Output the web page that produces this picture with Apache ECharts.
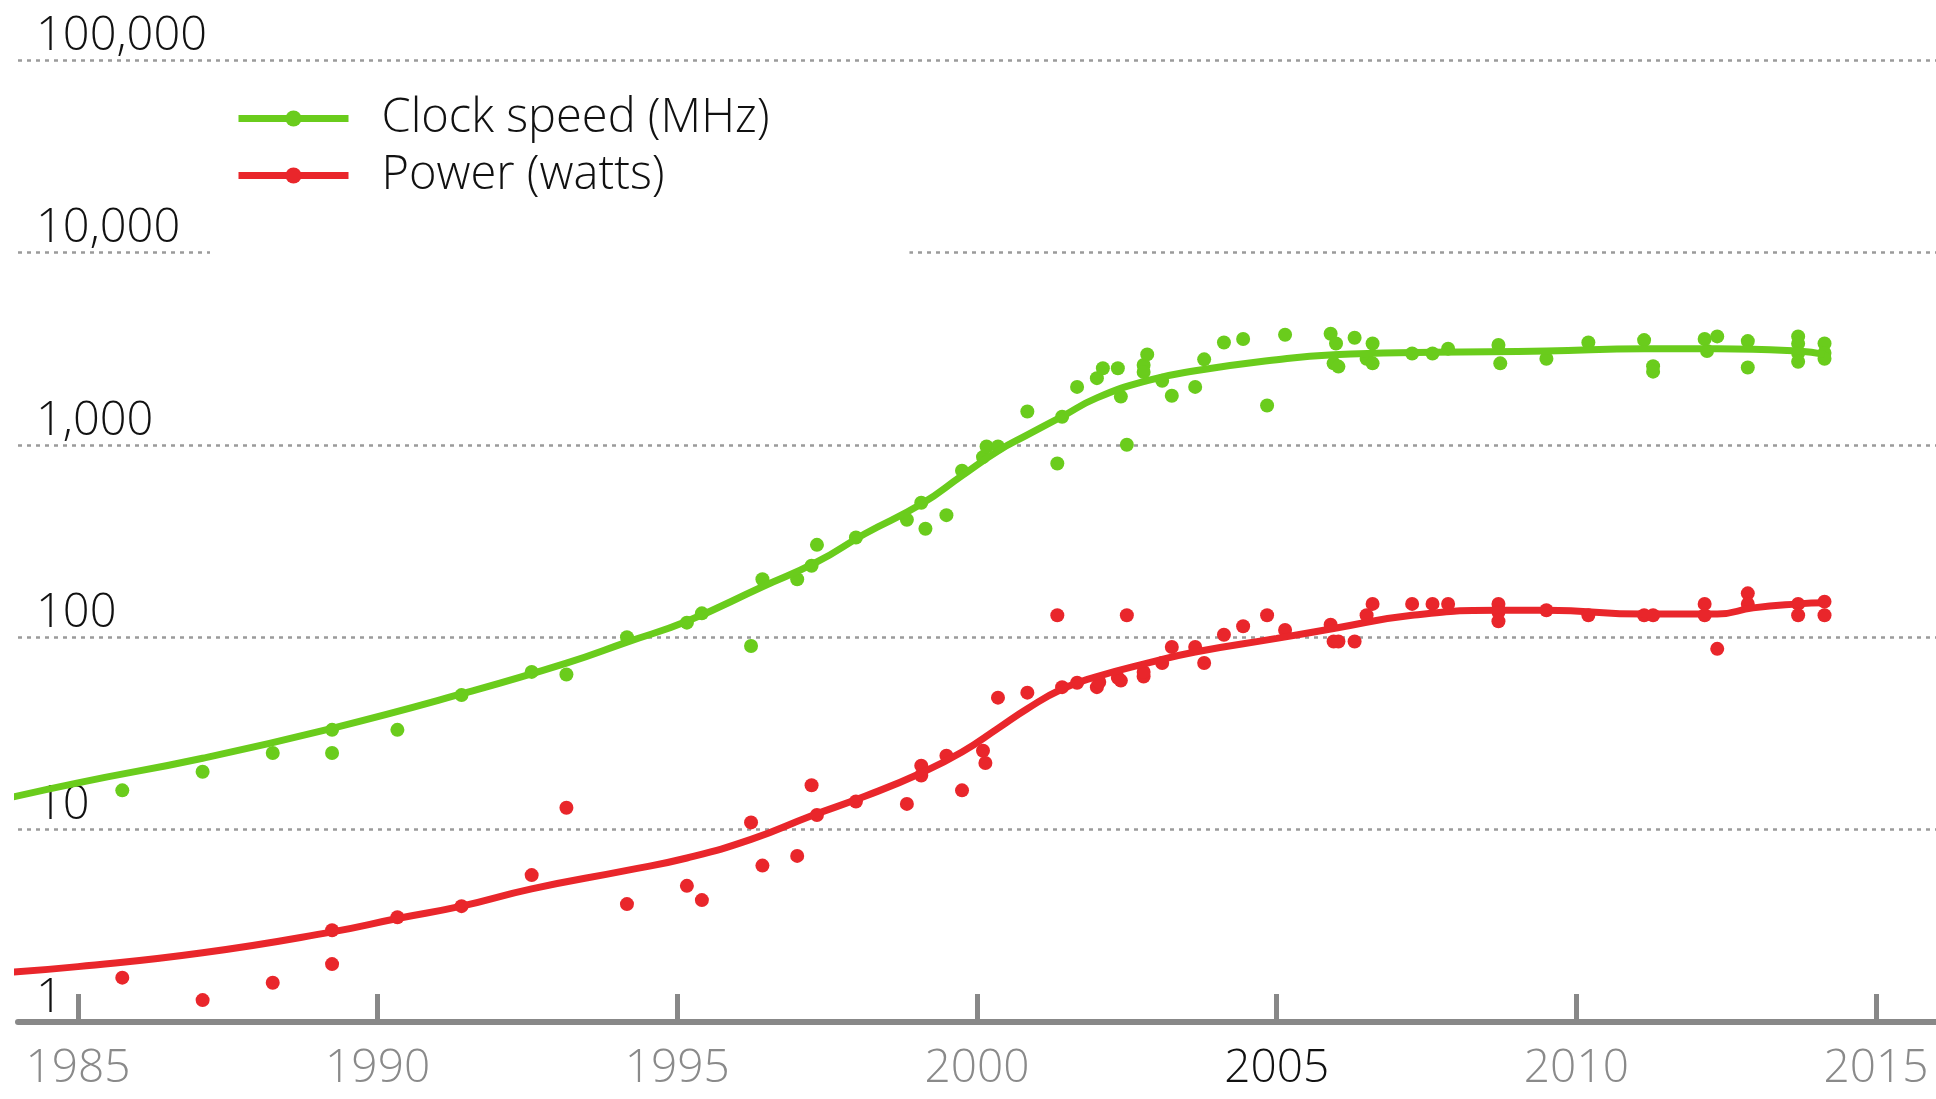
<!DOCTYPE html>
<html>
<head>
<meta charset="utf-8">
<title>Clock speed and power</title>
<script src="https://cdn.jsdelivr.net/npm/echarts@6/dist/echarts.min.js"></script>
<style>
  html, body { margin: 0; padding: 0; background: #fff; }
  #chart { width: 1936px; height: 1099px; }
</style>
</head>
<body>
<div id="chart"></div>
<script>
// measured points - clock speed (MHz)
var clockYears = [1985.74, 1987.08, 1988.25, 1989.24, 1989.24, 1990.33, 1991.40, 1992.57, 1993.15, 1994.16,
    1995.16, 1995.41, 1996.23, 1996.42, 1997.00, 1997.24, 1997.33, 1997.98, 1998.83, 1999.07,
    1999.14, 1999.49, 1999.75, 2000.10, 2000.16, 2000.35, 2000.84, 2001.34, 2001.42, 2001.67,
    2002.00, 2002.10, 2002.35, 2002.40, 2002.50, 2002.78, 2002.84, 2002.78, 2003.09, 2003.25,
    2003.64, 2003.79, 2004.12, 2004.44, 2004.84, 2005.14, 2005.90, 2005.99, 2005.95, 2006.03,
    2006.30, 2006.60, 2006.50, 2006.60, 2007.26, 2007.60, 2007.86, 2008.70, 2008.73, 2009.50,
    2010.20, 2011.13, 2011.28, 2011.28, 2012.14, 2012.18, 2012.35, 2012.86, 2012.86, 2013.70,
    2013.70, 2013.70, 2013.70, 2014.14, 2014.14, 2014.14];
var clockMHz = [16, 20, 25, 33, 25, 33, 50, 66, 64, 100,
    119, 133, 90, 200, 200, 235, 302, 330, 408, 500,
    366, 431, 733, 863, 980, 980, 1490, 800, 1400, 2000,
    2220, 2500, 2500, 1780, 1000, 2600, 2950, 2390, 2150, 1800,
    2000, 2780, 3400, 3550, 1600, 3730, 3780, 3360, 2650, 2550,
    3600, 3360, 2800, 2650, 2980, 2980, 3160, 3300, 2650, 2800,
    3400, 3500, 2560, 2400, 3550, 3070, 3660, 3460, 2520, 3660,
    3350, 3000, 2700, 3360, 3000, 2800];

// measured points - power (watts)
var powerYears = [1985.74, 1987.08, 1988.25, 1989.24, 1989.24, 1990.33, 1991.40, 1992.57, 1993.15, 1994.16,
    1995.16, 1995.41, 1996.23, 1996.42, 1997.00, 1997.24, 1997.33, 1997.98, 1998.83, 1999.07,
    1999.07, 1999.49, 1999.75, 2000.10, 2000.14, 2000.35, 2000.84, 2001.34, 2001.42, 2001.67,
    2002.00, 2002.04, 2002.35, 2002.40, 2002.50, 2002.78, 2002.78, 2003.09, 2003.25, 2003.64,
    2003.79, 2004.12, 2004.44, 2004.84, 2005.14, 2005.90, 2005.95, 2006.03, 2006.30, 2006.60,
    2006.50, 2007.26, 2007.60, 2007.86, 2008.70, 2008.70, 2008.70, 2009.50, 2010.20, 2011.13,
    2011.28, 2012.14, 2012.14, 2012.35, 2012.86, 2012.86, 2013.70, 2013.70, 2014.14, 2014.14];
var powerWatts = [1.7, 1.3, 1.6, 3.0, 2.0, 3.5, 4.0, 5.8, 13, 4.1,
    5.1, 4.3, 10.9, 6.5, 7.3, 17, 11.9, 14, 13.6, 21.5,
    19.1, 24.2, 16, 25.7, 22.2, 48.5, 51.5, 130, 55, 58,
    55, 58.5, 61.5, 59.5, 130, 62.5, 66, 73.5, 89, 89,
    73.5, 103, 114, 130, 109, 116, 95, 95, 95, 149,
    130, 149, 149, 149, 149, 135, 121, 138, 130, 130,
    130, 149, 130, 87, 169, 149, 149, 130, 153, 130];

// smoothed trend lines
var clockTrendYears = [1983.72, 1985.0, 1987.08, 1989.24, 1991.4, 1993.15, 1994.16, 1995.16, 1996.42, 1997.33,
    1998.13, 1999.07, 1999.75, 2000.35, 2000.84, 2001.42, 2002.0, 2002.84, 2003.64, 2005.0,
    2005.95, 2007.6, 2009.5, 2011.13, 2012.35, 2013.7, 2014.14];
var clockTrend = [14.3, 17.5, 23.5, 33.6, 50.7, 73.3, 94.3, 121, 183, 246,
    345, 492, 692, 929, 1125, 1403, 1753, 2155, 2425, 2770,
    2940, 3025, 3070, 3160, 3160, 3070, 2950];

var powerTrendYears = [1983.72, 1985.0, 1987.08, 1989.24, 1990.33, 1991.4, 1992.57, 1994.16, 1995.16, 1996.23,
    1997.24, 1998.13, 1999.07, 1999.75, 2000.35, 2000.84, 2001.42, 2002.0, 2002.84, 2003.64,
    2005.0, 2005.95, 2007.26, 2008.7, 2009.5, 2011.13, 2012.35, 2012.95, 2013.7, 2014.14];
var powerTrend = [1.8, 1.94, 2.29, 2.94, 3.45, 4.0, 4.92, 6.14, 7.12, 8.89,
    11.8, 14.9, 19.7, 25.3, 33.6, 42.5, 53.8, 62.4, 73.3, 83.8,
    98.6, 111, 130, 138, 138, 132, 132, 142, 149, 151];

var yearTicks = [1985, 1990, 1995, 2000, 2005, 2010, 2015];

var GREEN = '#6acc1c';
var RED = '#e9262b';
var FONT = 'Open Sans';

function pairs(xs, ys) {
    return xs.map(function (x, i) { return [x, ys[i]]; });
}

var myChart = echarts.init(document.getElementById('chart'));

myChart.setOption({
    animation: false,
    backgroundColor: '#fff',
    grid: { left: 18, right: 0, top: 60, bottom: 77 },
    legend: {
        data: ['Clock speed (MHz)', 'Power (watts)'],
        orient: 'vertical',
        left: 210,
        top: 80,
        padding: [10, 140, 60, 25],
        backgroundColor: '#fff',
        itemWidth: 110,
        itemHeight: 20,
        itemGap: 0,
        selectedMode: false,
        lineStyle: { width: 7 },
        textStyle: {
            fontFamily: FONT,
            fontWeight: 300,
            fontSize: 47,
            lineHeight: 57,
            color: '#111',
            padding: [0, 0, 0, 28]
        }
    },
    xAxis: {
        type: 'value',
        min: 1984,
        max: 2016,
        splitLine: { show: false },
        axisLine: { lineStyle: { color: '#888', width: 6 } },
        axisTick: {
            inside: true,
            length: 28,
            customValues: yearTicks,
            lineStyle: { color: '#888', width: 5 }
        },
        axisLabel: {
            customValues: yearTicks,
            margin: 24,
            fontFamily: FONT,
            fontWeight: 300,
            fontSize: 46,
            formatter: function (v) { return String(v); },
            color: function (v) { return +v === 2005 ? '#111' : '#8a8a8a'; }
        }
    },
    yAxis: {
        type: 'log',
        logBase: 10,
        min: 1,
        max: 100000,
        axisLine: { show: false },
        axisTick: { show: false },
        axisLabel: {
            inside: true,
            margin: 18,
            verticalAlign: 'bottom',
            fontFamily: FONT,
            fontWeight: 300,
            fontSize: 47,
            color: '#111',
            formatter: function (v) { return Number(v).toLocaleString('en-US'); }
        },
        splitLine: {
            lineStyle: { color: '#9b9b9b', width: 2.5, type: [4, 5] }
        }
    },
    series: [
        {
            name: 'Clock speed points',
            type: 'scatter',
            symbolSize: 14,
            itemStyle: { color: GREEN, opacity: 1 },
            data: pairs(clockYears, clockMHz)
        },
        {
            name: 'Power points',
            type: 'scatter',
            symbolSize: 14,
            itemStyle: { color: RED, opacity: 1 },
            data: pairs(powerYears, powerWatts)
        },
        {
            name: 'Clock speed (MHz)',
            type: 'line',
            smooth: true,
            clip: false,
            symbol: 'circle',
            showSymbol: false,
            itemStyle: { color: GREEN },
            lineStyle: { color: GREEN, width: 7 },
            data: pairs(clockTrendYears, clockTrend)
        },
        {
            name: 'Power (watts)',
            type: 'line',
            smooth: true,
            clip: false,
            symbol: 'circle',
            showSymbol: false,
            itemStyle: { color: RED },
            lineStyle: { color: RED, width: 7 },
            data: pairs(powerTrendYears, powerTrend)
        }
    ]
});
</script>
</body>
</html>
